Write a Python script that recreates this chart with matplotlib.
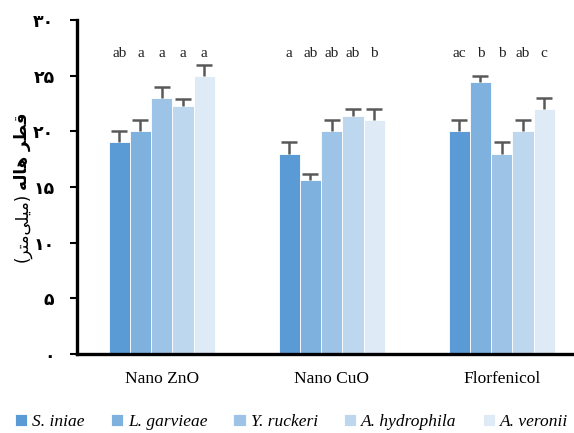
import matplotlib
matplotlib.use("Agg")
import matplotlib.pyplot as plt
import numpy as np

groups = ["Nano ZnO", "Nano CuO", "Florfenicol"]
species = ["S. iniae", "L. garvieae", "Y. ruckeri", "A. hydrophila", "A. veronii"]
colors = ["#5B9BD5", "#7FB1DF", "#9DC3E6", "#BDD7EE", "#DEEAF6"]

# zone diameter (mm), one list per species across the 3 groups
s_iniae = [19.0, 18.0, 20.0]
l_garvieae = [20.0, 15.6, 24.4]
y_ruckeri = [23.0, 20.0, 18.0]
a_hydrophila = [22.3, 21.4, 20.0]
a_veronii = [25.0, 21.0, 22.0]

s_iniae_err = [1.0, 1.0, 1.0]
l_garvieae_err = [1.0, 0.6, 0.6]
y_ruckeri_err = [1.0, 1.0, 1.0]
a_hydrophila_err = [0.6, 0.6, 1.0]
a_veronii_err = [1.0, 1.0, 1.0]

# significance letters, one list per species across the 3 groups
letters = [["ab", "a", "ac"], ["a", "ab", "b"], ["a", "ab", "b"],
           ["a", "ab", "ab"], ["a", "b", "c"]]

yticks = [0, 5, 10, 15, 20, 25, 30]
ytick_labels = ["۰", "۵", "۱۰", "۱۵", "۲۰", "۲۵", "۳۰"]

values = [s_iniae, l_garvieae, y_ruckeri, a_hydrophila, a_veronii]
errors = [s_iniae_err, l_garvieae_err, y_ruckeri_err, a_hydrophila_err, a_veronii_err]

W, H = 574, 433
fig = plt.figure(figsize=(W / 100, H / 100), dpi=100)
ax = fig.add_axes([76.7 / W, 79 / H, 510 / W, 334 / H])

x = np.arange(len(groups))
bw = 0.125
for i, (name, vals, errs, col) in enumerate(zip(species, values, errors, colors)):
  xs = x + (i - 2) * bw
  vals = np.array(vals)
  tops = vals + np.array(errs)
  ax.bar(xs, vals, bw, color=col, edgecolor="white", linewidth=0.6, label=name)
  # upper-only error bars (T shape)
  ax.vlines(xs, vals, tops, color="#595959", linewidth=1.8, zorder=3)
  ax.plot(xs, tops, ls="none", marker="_", markersize=11, markeredgewidth=1.8,
          color="#595959", zorder=3)
  for xi, lab in zip(xs, letters[i]):
    ax.text(xi, 27, lab, ha="center", va="center", fontsize=11,
            family="Liberation Serif", color="#222222")

ax.set_xlim(-0.5, 2.5)
ax.set_ylim(0, 30)
ax.set_xticks(x)
ax.set_xticklabels(groups, family="Liberation Serif", fontsize=12.5)
ax.tick_params(axis="x", length=0, pad=12)
ax.set_yticks(yticks)
ax.set_yticklabels(ytick_labels, family="DejaVu Sans", fontweight="bold", fontsize=12.5)
ax.tick_params(axis="y", length=5, width=1.5, pad=11)
for s in ("top", "right"):
  ax.spines[s].set_visible(False)
for s in ("left", "bottom"):
  ax.spines[s].set_linewidth(2.4)

# y label, Persian, pre-shaped in visual order
bold_part = "ﻪﻟﺎﻫ ﺮﻄﻗ"
light_part = "(ﺮﺘﻣﯽﻠﯿﻣ)"
fig.text(22 / W, 1 - 190 / H, bold_part, rotation=90, ha="center", va="bottom",
         fontsize=12, fontweight="bold", family="DejaVu Sans")
fig.text(22 / W, 1 - 193 / H, light_part, rotation=90, ha="center", va="top",
         fontsize=12, family="DejaVu Sans")

fig.legend(loc="center", bbox_to_anchor=(0.508, 1 - 422 / H), ncol=5, frameon=False,
           handlelength=0.7, handleheight=0.7, handletextpad=0.3, columnspacing=1.5,
           prop=dict(family="Liberation Serif", style="italic", size=12.5))

fig.savefig("out.png", dpi=100)
